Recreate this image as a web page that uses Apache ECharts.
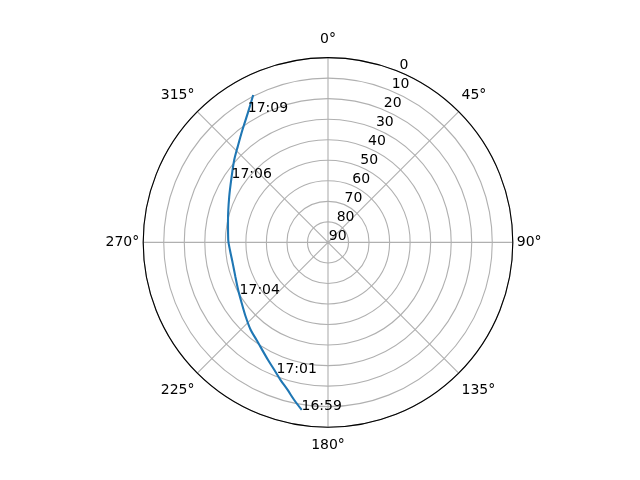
<!DOCTYPE html>
<html>
<head>
<meta charset="utf-8">
<script src="https://cdn.jsdelivr.net/npm/echarts@6/dist/echarts.min.js"></script>
<style>
html, body { margin: 0; padding: 0; background: #ffffff; }
#chart { width: 640px; height: 480px; }
</style>
</head>
<body>
<div id="chart"></div>
<script>
// Pass track: azimuth (deg, clockwise from north) and elevation (deg), from 16:59 to 17:09
const azimuth = [188.9, 192.1, 195.3, 199.0, 202.8, 207.0, 216.2, 221.4, 227.9, 234.8, 242.1, 249.7, 257.6, 265.6, 271.4, 282.6, 294.8, 304.3, 311.3, 316.7, 322.7, 328.1, 333.1];
const elevation = [7.4, 11.5, 15.5, 19.1, 22.6, 25.7, 31.1, 33.1, 36.0, 38.6, 40.5, 41.9, 42.5, 42.1, 41.4, 40.1, 37.0, 33.2, 29.2, 25.9, 21.2, 16.0, 9.5];

// Time annotations
const timeLabels = ['16:59', '17:01', '17:04', '17:06', '17:09'];
const timeAz = [188.8, 201.2, 239.1, 303.4, 328.4];
const timeEl = [7.2, 21.3, 40.1, 34.0, 15.9];

// Axis ticks
const angleTicks = [0, 45, 90, 135, 180, 225, 270, 315];
const radialTicks = [0, 10, 20, 30, 40, 50, 60, 70, 80, 90];

const FONT = 'DejaVu Sans';
const CX = 328, CY = 242.4, R = 184.8;

const trackData = azimuth.map((a, i) => [elevation[i], a]);
const labelData = timeLabels.map((t, i) => ({ value: [timeEl[i], timeAz[i]], name: t }));

const chart = echarts.init(document.getElementById('chart'), null, { renderer: 'canvas' });
chart.setOption({
  backgroundColor: '#ffffff',
  animation: false,
  polar: [
    { center: [CX, CY], radius: R },
    { center: [CX + 0.8, CY + 1.1], radius: R }
  ],
  angleAxis: [
    {
      polarIndex: 0,
      type: 'value',
      min: 0, max: 360, interval: 45,
      startAngle: 90,
      clockwise: true,
      axisLine: { show: true, lineStyle: { color: '#000000', width: 1.1 } },
      axisTick: { show: false },
      axisLabel: {
        show: true, margin: 4, color: '#000000', fontSize: 14, fontFamily: FONT,
        padding: [7, 0, 7, 0],
        formatter: function (v) { return angleTicks.indexOf(v) >= 0 && v < 360 ? v + '°' : ''; }
      },
      splitLine: { show: true, lineStyle: { color: '#b0b0b0', width: 1.1 } }
    },
    {
      polarIndex: 1,
      type: 'value',
      min: 0, max: 360, interval: 45,
      startAngle: 67.5,
      clockwise: true,
      axisLine: { show: false },
      axisTick: { show: false },
      axisLabel: { show: false },
      splitLine: { show: false }
    }
  ],
  radiusAxis: [
    {
      polarIndex: 0,
      type: 'value',
      min: 0, max: 90, interval: 10,
      inverse: true,
      axisLine: { show: false },
      axisTick: { show: false },
      axisLabel: { show: false },
      splitLine: { show: true, lineStyle: { color: '#b0b0b0', width: 1.1 } }
    },
    {
      polarIndex: 1,
      type: 'value',
      min: 0, max: 90, interval: 10,
      inverse: true,
      axisLine: { show: false },
      axisTick: { show: false },
      splitLine: { show: false },
      axisLabel: {
        show: true, margin: 0, color: '#000000', fontSize: 14, fontFamily: FONT,
        align: 'left', verticalAlign: 'bottom',
        showMinLabel: true, showMaxLabel: true, hideOverlap: false,
        formatter: function (v) { return radialTicks.indexOf(v) >= 0 ? String(v) : ''; }
      }
    }
  ],
  series: [
    {
      type: 'line',
      coordinateSystem: 'polar',
      polarIndex: 0,
      data: trackData,
      showSymbol: false,
      symbol: 'none',
      smooth: 0.3,
      lineStyle: { color: '#1f77b4', width: 2.1 },
      z: 3
    },
    {
      type: 'scatter',
      coordinateSystem: 'polar',
      polarIndex: 0,
      data: labelData,
      symbolSize: 1,
      itemStyle: { color: 'rgba(0,0,0,0)', opacity: 1 },
      label: {
        show: true,
        position: [0, 0],
        align: 'left',
        verticalAlign: 'bottom',
        offset: [0, 3],
        color: '#000000', fontSize: 14, fontFamily: FONT,
        formatter: function (p) { return p.name; }
      },
      z: 4
    }
  ]
});
</script>
</body>
</html>
